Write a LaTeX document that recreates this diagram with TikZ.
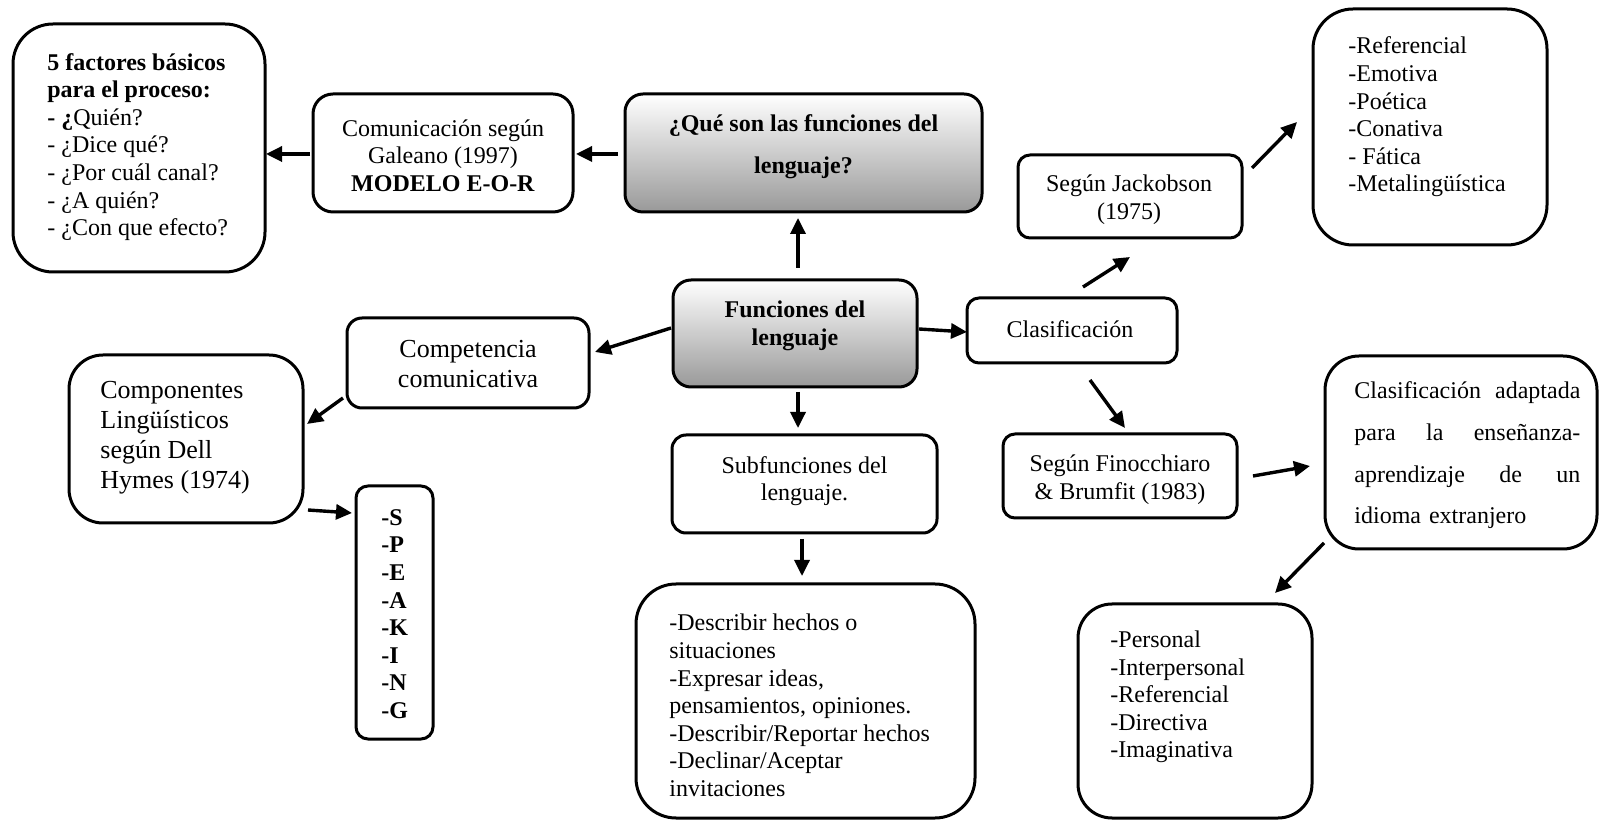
\documentclass[tikz,border=0pt]{standalone}
\usepackage{fontspec}
\setmainfont{Liberation Serif}
\usetikzlibrary{arrows.meta,calc}
\tikzset{
  bx/.style={draw=black, line width=1.5pt, rounded corners=#1, inner sep=0pt, outer sep=0pt},
  bx/.default=6pt,
  grad/.style={top color=white, bottom color=black!40},
  txt/.style={inner sep=0pt, font=\fontsize{12}{13.8}\selectfont},
  bigtxt/.style={inner sep=0pt, font=\fontsize{13}{15}\selectfont},
  arr/.style={line width=1.7pt, -{Triangle[length=8pt,width=7.5pt]}},
}
\begin{document}
\begin{tikzpicture}[x=0.5pt,y=-0.5pt]
\useasboundingbox (0,0) rectangle (1600,822);

% boxes
\node[bx=20pt, minimum width=126pt, minimum height=124pt] (fac) at (139,148) {};
\node[bx=10pt, minimum width=130pt, minimum height=59pt] (com) at (443,153) {};
\node[bx=9pt, grad, minimum width=178.5pt, minimum height=59pt] (que) at (803.5,153) {};
\node[bx=9pt, grad, minimum width=122pt, minimum height=53.5pt] (fun) at (795,333.5) {};
\node[bx=6pt, minimum width=105pt, minimum height=32.5pt] (cla) at (1072,330.5) {};
\node[bx=6pt, minimum width=112pt, minimum height=41.5pt] (jak) at (1130,196.5) {};
\node[bx=20pt, minimum width=117pt, minimum height=118pt] (ref) at (1430,127) {};
\node[bx=7.5pt, minimum width=121pt, minimum height=45pt] (comp) at (468,363) {};
\node[bx=17pt, minimum width=117pt, minimum height=84pt] (compo) at (186,439) {};
\node[bx=6pt, minimum width=38.5pt, minimum height=126.5pt] (speak) at (394.5,612.5) {};
\node[bx=7pt, minimum width=132.5pt, minimum height=49pt] (sub) at (804.5,484) {};
\node[bx=20pt, minimum width=169.5pt, minimum height=117pt] (desc) at (805.5,701) {};
\node[bx=6pt, minimum width=117pt, minimum height=42pt] (fino) at (1120,476) {};
\node[bx=17pt, minimum width=136pt, minimum height=96.5pt] (ada) at (1461,452.5) {};
\node[bx=17pt, minimum width=117pt, minimum height=107pt] (per) at (1195,711) {};

% texts
\node[txt, anchor=west, align=left] (fac-t) at (47,147)
  {\textbf{5 factores básicos}\\ \textbf{para el proceso:}\\ \textbf{- ¿}Quién?\\ - ¿Dice qué?\\ - ¿Por cuál canal?\\ - ¿A quién?\\ - ¿Con que efecto?};
\node[txt, align=center] (com-t) at (443,155.5)
  {Comunicación según\\ Galeano (1997)\\ \textbf{MODELO E-O-R}};
\node[txt, align=center, font=\fontsize{12}{21}\selectfont\bfseries] (que-t) at (803.5,147)
  {¿Qué son las funciones del\\ lenguaje?};
\node[txt, align=center, font=\fontsize{12}{13.8}\selectfont\bfseries] (fun-t) at (795,326)
  {Funciones del\\ lenguaje};
\node[txt] (cla-t) at (1070,329) {Clasificación};
\node[txt, align=center] (jak-t) at (1129,200) {Según Jackobson\\ (1975)};
\node[txt, anchor=west, align=left] (ref-t) at (1348,117)
  {-Referencial\\ -Emotiva\\ -Poética\\ -Conativa\\ - Fática\\ -Metalingüística};
\node[bigtxt, align=center] (comp-t) at (468,364.5) {Competencia\\ comunicativa};
\node[bigtxt, anchor=west, align=left] (compo-t) at (100,437.5)
  {Componentes\\ Lingüísticos\\ según Dell\\ Hymes (1974)};
\node[txt, anchor=west, align=left, font=\fontsize{12}{13.8}\selectfont\bfseries] (speak-t) at (381,614)
  {-S\\ -P\\ -E\\ -A\\ -K\\ -I\\ -N\\ -G};
\node[txt, align=center] (sub-t) at (804.5,481) {Subfunciones del\\ lenguaje.};
\node[txt, anchor=west, align=left] (desc-t) at (669,705.5)
  {-Describir hechos o\\ situaciones\\ -Expresar ideas,\\ pensamientos, opiniones.\\ -Describir/Reportar hechos\\ -Declinar/Aceptar\\ invitaciones};
\node[txt, align=center] (fino-t) at (1120,479.5) {Según Finocchiaro\\ \& Brumfit (1983)};
\node[txt, anchor=west, text width=113pt, align=left, font=\fontsize{12}{20.8}\selectfont] (ada-t) at (1354,455.5)
  {Clasificación\hfill adaptada\\ para\hfill la\hfill enseñanza-\\ aprendizaje\hfill de\hfill un\\ idioma extranjero};
\node[txt, anchor=west, align=left] (per-t) at (1110,697)
  {-Personal\\ -Interpersonal\\ -Referencial\\ -Directiva\\ -Imaginativa};

% arrows
\draw[arr] ($(que.west)+(-7,1)$) -- ($(com.east)+(3,1)$);
\draw[arr] ($(com.west)+(-3,1)$) -- ($(com.west -| fac.east)+(1,1)$);
\draw[arr] ($(fun.north)+(3,-12)$) -- ($(que.south)+(-5.5,6)$);
\draw[arr] ($(fun.south)+(3,5)$) -- ($(sub.north)+(-6.5,-7)$);
\draw[arr] ($(sub.south)+(-2.5,6)$) -- ($(desc.north)+(-3.5,-8)$);
\draw[arr] ($(fun.west)+(-2,-5.5)$) -- ($(comp.east)+(6,-11)$);
\draw[arr] ($(fun.east)+(2,-4.5)$) -- ($(cla.west)+(0,1.5)$);
\draw[arr] ($(cla.north)+(11,-11)$) -- ($(jak.south)+(0,19)$);
\draw[arr] ($(jak.north east)+(10,13)$) -- ($(ref.west)+(-16,-5)$);
\draw[arr] ($(cla.south)+(18,17)$) -- ($(fino.north)+(5,-6)$);
\draw[arr] ($(fino.east)+(16,0)$) -- ($(ada.west)+(-15,13.5)$);
\draw[arr] ($(ada.south west)+(-1,-6)$) -- ($(per.north east)+(-37,-11)$);
\draw[arr] ($(comp.south west)+(-4,-10)$) -- ($(compo.east)+(4,-15)$);
\draw[arr] ($(compo.south east)+(5,-13)$) -- ($(speak.north west)+(-4,27)$);
\end{tikzpicture}
\end{document}
